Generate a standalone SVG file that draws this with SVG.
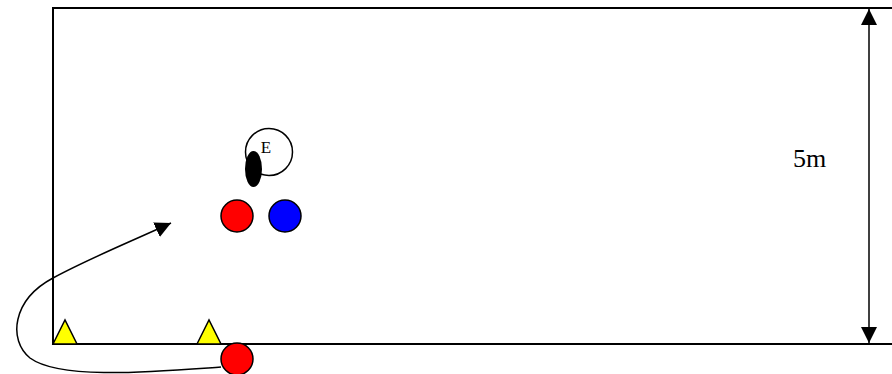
<svg xmlns="http://www.w3.org/2000/svg" width="892" height="374" viewBox="0 0 892 374">
<style>
.line{stroke:#000;stroke-width:2;fill:none}
.thin{stroke:#000;stroke-width:1.5;fill:none}
.player{stroke:#000;stroke-width:1.5}
.cone{fill:#ff0;stroke:#000;stroke-width:1.5}
.t{font-family:"Liberation Serif","Times New Roman",serif;fill:#000}
</style>
<defs>
<marker id="ah2" viewBox="0 0 10 10" refX="10" refY="5" markerWidth="16" markerHeight="16" markerUnits="userSpaceOnUse" orient="auto-start-reverse">
<path d="M0,0 L10,5 L0,10 Z" fill="#000"/>
</marker>
</defs>
<g id="field">
<path class="line" d="M893,8 H53 V344 H893"/>
</g>
<g id="cone1"><polygon class="cone" points="53,344 65,320 77,344"/></g>
<g id="cone2"><polygon class="cone" points="197,344 209,320 221,344"/></g>
<g id="coach-e">
<circle cx="269" cy="152" r="23.5" fill="#fff" stroke="#000" stroke-width="1.5"/>
<text class="t" x="266" y="153" font-size="17" text-anchor="middle">E</text>
</g>
<g id="ball"><ellipse cx="253.5" cy="169" rx="8.5" ry="18" fill="#000"/></g>
<g id="red1"><circle class="player" cx="237" cy="216" r="16" fill="#f00"/></g>
<g id="blue1"><circle class="player" cx="285" cy="216" r="16" fill="#00f"/></g>
<g id="red2"><circle class="player" cx="237" cy="359" r="16" fill="#f00"/></g>
<g id="label-5m"><text class="t" x="793" y="167" font-size="26">5m</text></g>
<g id="connectors">
<path class="thin" d="M221,367 C150,372 60,380 30,358 C8,340 12,300 53,278 C90,258 130,242 171,223" marker-end="url(#ah2)"/>
<line class="thin" x1="869" y1="9" x2="869" y2="343" marker-start="url(#ah2)" marker-end="url(#ah2)"/>
</g>
</svg>
